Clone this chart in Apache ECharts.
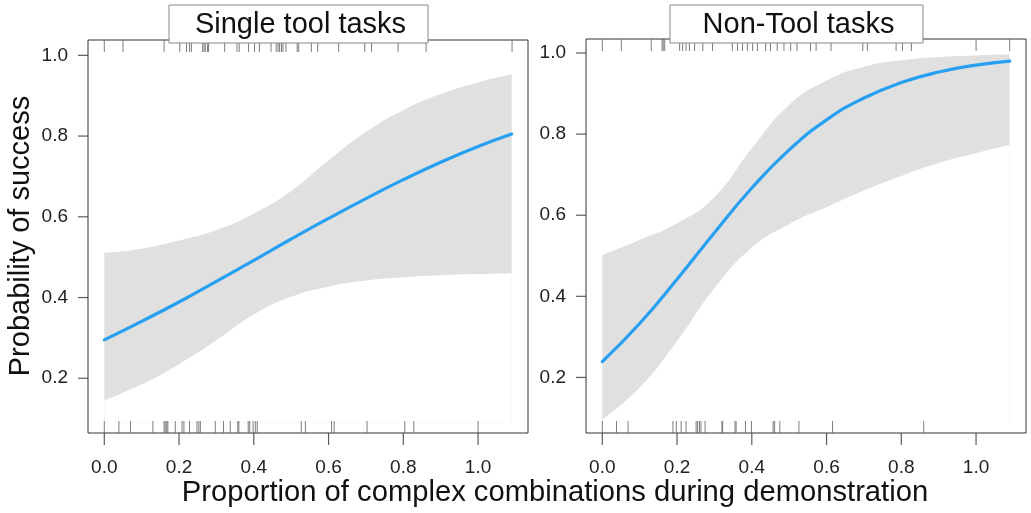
<!DOCTYPE html>
<html><head><meta charset="utf-8">
<script src="https://cdn.jsdelivr.net/npm/echarts@6/dist/echarts.min.js"></script>
<style>html,body{margin:0;padding:0;background:#fff}#c{width:1031px;height:513px}</style>
</head><body><div id="c"></div>
<script>
// ---- data ----
const panelTitles = ['Single tool tasks', 'Non-Tool tasks'];
const xLabelText = 'Proportion of complex combinations during demonstration';
const yLabelText = 'Probability of success';
const xGrid = [0, 0.1, 0.2, 0.3, 0.4, 0.5, 0.6, 0.7, 0.8, 0.9, 1.0, 1.09];

const singleFit   = [0.295, 0.341, 0.389, 0.440, 0.492, 0.545, 0.596, 0.645, 0.692, 0.735, 0.774, 0.805];
const singleUpper = [0.511, 0.521, 0.541, 0.567, 0.608, 0.664, 0.740, 0.810, 0.864, 0.904, 0.933, 0.953];
const singleLower = [0.145, 0.185, 0.235, 0.294, 0.358, 0.402, 0.427, 0.442, 0.450, 0.455, 0.458, 0.460];

const nonToolFit   = [0.239, 0.333, 0.442, 0.557, 0.667, 0.761, 0.835, 0.889, 0.927, 0.953, 0.970, 0.980];
const nonToolUpper = [0.502, 0.539, 0.580, 0.645, 0.765, 0.872, 0.932, 0.966, 0.982, 0.990, 0.994, 0.996];
const nonToolLower = [0.096, 0.175, 0.290, 0.420, 0.520, 0.578, 0.620, 0.661, 0.697, 0.729, 0.753, 0.773];

// rug: observed proportions for successes (top) and failures (bottom)
const singleRugTop = [0.0, 0.050, 0.160, 0.202, 0.220, 0.228, 0.233, 0.263, 0.267, 0.270, 0.276, 0.279, 0.322, 0.355, 0.361, 0.386, 0.402, 0.415, 0.446, 0.460, 0.465, 0.469, 0.474, 0.478, 0.486, 0.516, 0.520, 0.554, 0.571, 0.627, 0.697, 0.715, 0.786, 0.861, 1.091];
const singleRugBottom = [0.0, 0.039, 0.070, 0.130, 0.160, 0.163, 0.167, 0.170, 0.190, 0.208, 0.213, 0.228, 0.248, 0.253, 0.257, 0.297, 0.319, 0.337, 0.357, 0.360, 0.385, 0.389, 0.398, 0.404, 0.409, 0.527, 0.538, 0.608, 0.615, 0.703, 0.804, 0.828, 1.0];
const nonToolRugTop = [0.0, 0.051, 0.131, 0.160, 0.163, 0.167, 0.207, 0.215, 0.224, 0.233, 0.247, 0.269, 0.295, 0.348, 0.362, 0.375, 0.388, 0.402, 0.415, 0.437, 0.450, 0.468, 0.486, 0.504, 0.521, 0.557, 0.572, 0.612, 0.697, 0.709, 0.786, 0.803, 0.827, 1.0, 1.090];
const nonToolRugBottom = [0.0, 0.038, 0.069, 0.189, 0.198, 0.211, 0.224, 0.251, 0.255, 0.260, 0.264, 0.275, 0.320, 0.322, 0.355, 0.358, 0.383, 0.399, 0.457, 0.461, 0.475, 0.526, 0.616, 0.860];

const xTicks = [0, 0.2, 0.4, 0.6, 0.8, 1.0];
const yTicks = [0.2, 0.4, 0.6, 0.8, 1.0];

// ---- layout / styles ----
const FONT = "'Liberation Sans', Arial, Helvetica, sans-serif";
const BLUE = '#27A0F2';
const BAND = '#E0E0E0';
const AXIS = '#333';
const xRange = [-0.0436, 1.1336];
const yRanges = [[0.0644, 1.038], [0.063, 1.0345]];
const bandBase = [0.09, 0.085];  // fill baseline, just inside each panel's bottom
const grids = [
  {left: 88, top: 40, width: 440, height: 393},
  {left: 586, top: 39, width: 440, height: 394}
];

const panels = [
  {fit: singleFit, up: singleUpper, lo: singleLower, rugTop: singleRugTop, rugBot: singleRugBottom},
  {fit: nonToolFit, up: nonToolUpper, lo: nonToolLower, rugTop: nonToolRugTop, rugBot: nonToolRugBottom}
];

const option = {
  animation: false,
  textStyle: {fontFamily: FONT},
  grid: grids.map(g => Object.assign({show: true, borderColor: AXIS, borderWidth: 1, backgroundColor: 'transparent'}, g)),
  xAxis: grids.map((g, i) => ({
    type: 'value', gridIndex: i, min: xRange[0], max: xRange[1],
    axisLine: {show: false}, splitLine: {show: false}, axisTick: {show: false},
    axisLabel: {show: true, customValues: xTicks, formatter: v => v.toFixed(1), fontSize: 19, color: '#222', margin: 25, fontFamily: FONT}
  })),
  yAxis: grids.map((g, i) => ({
    type: 'value', gridIndex: i, min: yRanges[i][0], max: yRanges[i][1],
    axisLine: {show: false}, splitLine: {show: false}, axisTick: {show: false},
    axisLabel: {show: true, customValues: yTicks, formatter: v => v.toFixed(1), fontSize: 19, color: '#222', margin: 20, fontFamily: FONT}
  })),
  series: [],
  graphic: []
};

panels.forEach((p, i) => {
  const yMin = yRanges[i][0], yMax = yRanges[i][1];
  const base = {xAxisIndex: i, yAxisIndex: i, silent: true};
  // grey fill from the upper bound down to a baseline
  option.series.push(Object.assign({
    type: 'line', smooth: 0.5, symbol: 'none', z: 1,
    lineStyle: {width: 0, opacity: 0}, areaStyle: {color: BAND, opacity: 1, origin: bandBase[i]},
    data: xGrid.map((x, k) => [x, p.up[k]])
  }, base));
  // white fill from the lower bound down to the same baseline, leaving only the band
  option.series.push(Object.assign({
    type: 'line', smooth: 0.5, symbol: 'none', z: 2,
    lineStyle: {width: 0, opacity: 0}, areaStyle: {color: '#fff', opacity: 1, origin: bandBase[i]},
    data: xGrid.map((x, k) => [x, p.lo[k]])
  }, base));
  option.series.push(Object.assign({
    type: 'line', smooth: 0.5, symbol: 'none', z: 3,
    lineStyle: {width: 3.2, color: BLUE, cap: 'round'},
    data: xGrid.map((x, k) => [x, p.fit[k]])
  }, base));
  // rug marks
  option.series.push(Object.assign({
    type: 'scatter', symbol: 'rect', symbolSize: [1, 12], symbolOffset: [0, 6], clip: false, z: 4,
    itemStyle: {color: '#666', opacity: 0.85},
    data: p.rugTop.map(x => [x, yMax])
  }, base));
  option.series.push(Object.assign({
    type: 'scatter', symbol: 'rect', symbolSize: [1, 12], symbolOffset: [0, -6], clip: false, z: 4,
    itemStyle: {color: '#666', opacity: 0.85},
    data: p.rugBot.map(x => [x, yMin])
  }, base));
  // axis tick marks (outside the panel box)
  option.series.push(Object.assign({
    type: 'scatter', symbol: 'rect', symbolSize: [1.2, 12], symbolOffset: [0, 6], clip: false, z: 5,
    itemStyle: {color: AXIS},
    data: xTicks.map(x => [x, yMin])
  }, base));
  option.series.push(Object.assign({
    type: 'scatter', symbol: 'rect', symbolSize: [10, 1.2], symbolOffset: [-5, 0], clip: false, z: 5,
    itemStyle: {color: AXIS},
    data: yTicks.map(y => [xRange[0], y])
  }, base));
});

// strip titles
const boxes = [{x: 169, y: 5, w: 259, h: 38}, {x: 670, y: 5, w: 253, h: 38}];
boxes.forEach((b, i) => {
  option.graphic.push({type: 'rect', z: 100, shape: {x: b.x, y: b.y, width: b.w, height: b.h},
    style: {fill: '#fff', stroke: '#888', lineWidth: 1}});
  option.graphic.push({type: 'text', z: 101, x: b.x + b.w / 2 + 2, y: b.y + b.h / 2 + 1,
    style: {text: panelTitles[i], fontSize: 29, fontFamily: FONT, fill: '#111', align: 'center', verticalAlign: 'middle'}});
});
option.graphic.push({type: 'text', z: 100, x: 555, y: 493,
  style: {text: xLabelText, fontSize: 29.2, fontFamily: FONT, fill: '#111', align: 'center', verticalAlign: 'middle'}});
option.graphic.push({type: 'text', z: 100, x: 21, y: 236, rotation: Math.PI / 2,
  style: {text: yLabelText, fontSize: 29, fontFamily: FONT, fill: '#111', align: 'center', verticalAlign: 'middle'}});

const chart = echarts.init(document.getElementById('c'), null, {renderer: 'canvas'});
chart.setOption(option);
</script>
</body></html>
